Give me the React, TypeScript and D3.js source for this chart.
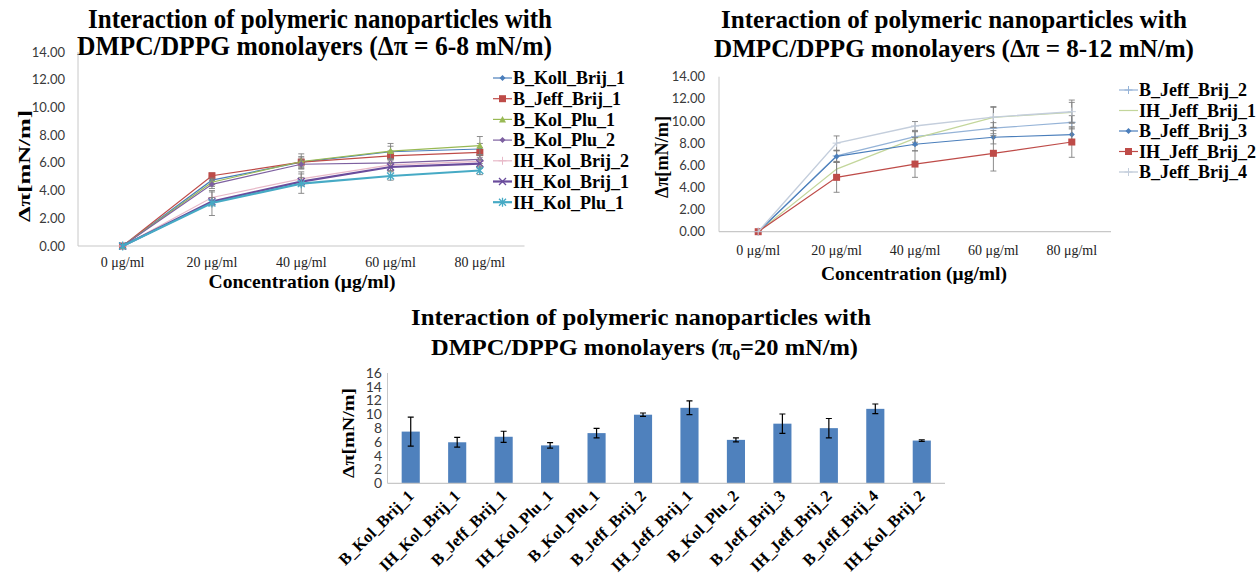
import React from "react";
import * as d3 from "d3";

// ---------- DATA ----------
const concentrations = ["0 μg/ml", "20 μg/ml", "40 μg/ml", "60 μg/ml", "80 μg/ml"];
const lineTicks = [0, 2, 4, 6, 8, 10, 12, 14];

// Chart 1 (Δπ = 6-8 mN/m)
const leftNames = ["B_Koll_Brij_1", "B_Jeff_Brij_1", "B_Kol_Plu_1", "B_Kol_Plu_2", "IH_Kol_Brij_2", "IH_Kol_Brij_1", "IH_Kol_Plu_1"];
const bKollBrij1 = [0, 4.75, 6.05, 6.8, 7.0];
const bJeffBrij1 = [0, 5.07, 6.05, 6.5, 6.75];
const bKolPlu1 = [0, 4.6, 6.1, 6.85, 7.25];
const bKolPlu2 = [0, 4.45, 5.9, 6.0, 6.25];
const ihKolBrij2 = [0, 3.5, 4.85, 5.85, 6.1];
const ihKolBrij1 = [0, 3.2, 4.65, 5.7, 5.95];
const ihKolPlu1 = [0, 3.1, 4.5, 5.05, 5.45];
const bKollBrij1Err = [0, 0.3, 0.4, 0.4, 0.4];
const bJeffBrij1Err = [0, 0.2, 0.3, 0.35, 0.35];
const bKolPlu1Err = [0, 0.3, 0.55, 0.55, 0.65];
const bKolPlu2Err = [0, 0.3, 0.3, 0.3, 0.3];
const ihKolBrij2Err = [0, 0.4, 0.5, 0.4, 0.5];
const ihKolBrij1Err = [0, 0.3, 0.3, 0.3, 0.3];
const ihKolPlu1Err = [0, 0.9, 0.7, 0.3, 0.3];

// Chart 2 (Δπ = 8-12 mN/m)
const rightNames = ["B_Jeff_Brij_2", "IH_Jeff_Brij_1", "B_Jeff_Brij_3", "IH_Jeff_Brij_2", "B_Jeff_Brij_4"];
const bJeffBrij2 = [0, 6.85, 8.58, 9.35, 9.88];
const ihJeffBrij1 = [0, 5.65, 8.43, 10.33, 10.78];
const bJeffBrij3 = [0, 6.8, 7.9, 8.53, 8.77];
const ihJeffBrij2 = [0, 4.91, 6.11, 7.08, 8.1];
const bJeffBrij4 = [0, 8.0, 9.55, 10.35, 10.84];
const bJeffBrij2Err = [0, 0.5, 0.5, 0.5, 0.6];
const ihJeffBrij1Err = [0, 0.6, 0.6, 0.9, 0.9];
const bJeffBrij3Err = [0, 0.5, 0.6, 0.6, 0.6];
const ihJeffBrij2Err = [0, 1.35, 1.2, 1.6, 1.38];
const bJeffBrij4Err = [0, 0.65, 0.4, 0.95, 1.05];

// Chart 3 (π0 = 20 mN/m)
const barCategories = ["B_Kol_Brij_1", "IH_Kol_Brij_1", "B_Jeff_Brij_1", "IH_Kol_Plu_1", "B_Kol_Plu_1", "B_Jeff_Brij_2", "IH_Jeff_Brij_1", "B_Kol_Plu_2", "B_Jeff_Brij_3", "IH_Jeff_Brij_2", "B_Jeff_Brij_4", "IH_Kol_Brij_2"];
const barValues = [7.5, 5.95, 6.75, 5.5, 7.28, 9.95, 10.95, 6.3, 8.65, 8.0, 10.8, 6.2];
const barErrors = [2.1, 0.7, 0.8, 0.4, 0.7, 0.25, 1.0, 0.3, 1.4, 1.4, 0.7, 0.12];
const barTicks = [0, 2, 4, 6, 8, 10, 12, 14, 16];

// ---------- STYLE ----------
const SERIF = "'Liberation Serif', 'Times New Roman', 'DejaVu Serif', serif";
const SANS = "Lato, 'Liberation Sans', sans-serif";
const TICK_COLOR = "#3a3a3a";
const AXIS_COLOR = "#c8c8c8";
const ERR_COLOR = "#808080";

type Series = { name: string; values: number[]; errors: number[]; color: string; marker: string; width: number };

const leftSeries: Series[] = [
  { name: leftNames[0], values: bKollBrij1, errors: bKollBrij1Err, color: "#4a7ebb", marker: "diamond", width: 1.2 },
  { name: leftNames[1], values: bJeffBrij1, errors: bJeffBrij1Err, color: "#be4b48", marker: "square", width: 1.2 },
  { name: leftNames[2], values: bKolPlu1, errors: bKolPlu1Err, color: "#98b954", marker: "triangle", width: 1.2 },
  { name: leftNames[3], values: bKolPlu2, errors: bKolPlu2Err, color: "#7d60a0", marker: "diamond", width: 1.2 },
  { name: leftNames[4], values: ihKolBrij2, errors: ihKolBrij2Err, color: "#e8b9c8", marker: "plus", width: 1.2 },
  { name: leftNames[5], values: ihKolBrij1, errors: ihKolBrij1Err, color: "#6a4c9c", marker: "x", width: 2.2 },
  { name: leftNames[6], values: ihKolPlu1, errors: ihKolPlu1Err, color: "#46aac5", marker: "star", width: 2.2 },
];

const rightSeries: Series[] = [
  { name: rightNames[0], values: bJeffBrij2, errors: bJeffBrij2Err, color: "#95b3d7", marker: "plus", width: 1.2 },
  { name: rightNames[1], values: ihJeffBrij1, errors: ihJeffBrij1Err, color: "#c3d69b", marker: "none", width: 1.2 },
  { name: rightNames[2], values: bJeffBrij3, errors: bJeffBrij3Err, color: "#4a7ebb", marker: "diamond", width: 1.2 },
  { name: rightNames[3], values: ihJeffBrij2, errors: ihJeffBrij2Err, color: "#be4b48", marker: "square", width: 1.2 },
  { name: rightNames[4], values: bJeffBrij4, errors: bJeffBrij4Err, color: "#c4cedc", marker: "plus", width: 1.4 },
];

function Marker({ type, x, y, color }: { type: string; x: number; y: number; color: string }) {
  const s = 3;
  switch (type) {
    case "diamond":
      return <path d={`M${x},${y - s}L${x + s},${y}L${x},${y + s}L${x - s},${y}Z`} fill={color} />;
    case "square":
      return <rect x={x - 3.5} y={y - 3.5} width={7} height={7} fill={color} />;
    case "triangle":
      return <path d={`M${x},${y - 3.5}L${x + 3.5},${y + 3}L${x - 3.5},${y + 3}Z`} fill={color} />;
    case "plus":
      return <path d={`M${x - 4},${y}H${x + 4}M${x},${y - 4}V${y + 4}`} stroke={color} strokeWidth={1} />;
    case "x":
      return <path d={`M${x - 3.5},${y - 3.5}L${x + 3.5},${y + 3.5}M${x - 3.5},${y + 3.5}L${x + 3.5},${y - 3.5}`} stroke={color} strokeWidth={1.3} />;
    case "star":
      return <path d={`M${x - 3.5},${y - 3.5}L${x + 3.5},${y + 3.5}M${x - 3.5},${y + 3.5}L${x + 3.5},${y - 3.5}M${x},${y - 4.5}V${y + 4.5}`} stroke={color} strokeWidth={1.3} />;
    default:
      return null;
  }
}

type LineChartProps = {
  series: Series[];
  plotLeft: number; plotRight: number; yTop: number; yBottom: number;
  tickRight: number; xTickY: number;
  xTitleX: number; xTitleY: number; xTitleLen: number;
  yTitleX: number; yTitleY: number; yTitleLen: number; yTitleSize: number;
  titleLines: { text: string; x: number; y: number; len: number; size: number }[];
  legendX: number; legendYs: number[];
};

function LineChart(p: LineChartProps) {
  const x = d3.scaleBand<string>().domain(concentrations).range([p.plotLeft, p.plotRight]);
  const y = d3.scaleLinear().domain([0, 14]).range([p.yBottom, p.yTop]);
  const cx = (c: string) => (x(c) as number) + x.bandwidth() / 2;
  const line = d3.line<number>().x((_, i) => cx(concentrations[i])).y((d) => y(d));
  return (
    <g>
      {p.titleLines.map((t, i) => (
        <text key={i} x={t.x} y={t.y} style={{ fontFamily: SERIF }} fontWeight="bold" fontSize={t.size} textLength={t.len} lengthAdjust="spacingAndGlyphs" fill="#000">{t.text}</text>
      ))}
      {/* axes */}
      <line x1={p.plotLeft} x2={p.plotLeft} y1={p.yTop} y2={p.yBottom} stroke={AXIS_COLOR} strokeWidth={1} />
      <line x1={p.plotLeft} x2={p.plotRight} y1={p.yBottom} y2={p.yBottom} stroke={AXIS_COLOR} strokeWidth={1.2} />
      {lineTicks.map((t) => (
        <text key={t} x={p.tickRight} y={y(t)} dy="0.35em" textAnchor="end" style={{ fontFamily: SANS }} fontSize={13} fill={TICK_COLOR}>{t.toFixed(2)}</text>
      ))}
      {concentrations.map((c) => (
        <text key={c} x={cx(c)} y={p.xTickY} textAnchor="middle" style={{ fontFamily: SERIF }} fontSize={14} fill="#222">{c}</text>
      ))}
      <text x={p.xTitleX} y={p.xTitleY} textAnchor="middle" style={{ fontFamily: SERIF }} fontWeight="bold" fontSize={19.5} textLength={p.xTitleLen} lengthAdjust="spacingAndGlyphs">Concentration (μg/ml)</text>
      <text transform={`translate(${p.yTitleX},${p.yTitleY}) rotate(-90)`} textAnchor="middle" dy="0.35em" style={{ fontFamily: SERIF }} fontWeight="bold" fontSize={p.yTitleSize} textLength={p.yTitleLen} lengthAdjust="spacingAndGlyphs">Δπ[mN/m]</text>
      {/* series */}
      {p.series.map((s) => (
        <g key={s.name}>
          <path d={line(s.values) || ""} fill="none" stroke={s.color} strokeWidth={s.width} />
          {s.values.map((v, i) => {
            const e = s.errors[i];
            if (!e) return null;
            const xx = cx(concentrations[i]);
            return (
              <path key={"e" + i} d={`M${xx},${y(v + e)}V${y(v - e)}M${xx - 3},${y(v + e)}H${xx + 3}M${xx - 3},${y(v - e)}H${xx + 3}`} stroke={ERR_COLOR} strokeWidth={0.9} fill="none" />
            );
          })}
          {s.values.map((v, i) => (
            <Marker key={"m" + i} type={s.marker} x={cx(concentrations[i])} y={y(v)} color={s.color} />
          ))}
        </g>
      ))}
      {/* legend */}
      {p.series.map((s, i) => (
        <g key={"lg" + s.name}>
          <line x1={p.legendX} x2={p.legendX + 19} y1={p.legendYs[i]} y2={p.legendYs[i]} stroke={s.color} strokeWidth={s.width} />
          <Marker type={s.marker} x={p.legendX + 9.5} y={p.legendYs[i]} color={s.color} />
          <text x={p.legendX + 20} y={p.legendYs[i]} dy="0.35em" style={{ fontFamily: SERIF }} fontWeight="bold" fontSize={18} fill="#000">{s.name}</text>
        </g>
      ))}
    </g>
  );
}

function BarChart() {
  const plotLeft = 387.5, plotRight = 945, yTop = 373, yBottom = 483.3;
  const band = d3.scaleBand<string>().domain(barCategories).range([plotLeft, plotRight]);
  const y = d3.scaleLinear().domain([0, 16]).range([yBottom, yTop]);
  const cx = (c: string) => (band(c) as number) + band.bandwidth() / 2;
  const bw = band.bandwidth() * 0.39;
  return (
    <g>
      <text x={411} y={325} style={{ fontFamily: SERIF }} fontWeight="bold" fontSize={24} textLength={460} lengthAdjust="spacingAndGlyphs">Interaction of polymeric nanoparticles with</text>
      <text x={431} y={355} style={{ fontFamily: SERIF }} fontWeight="bold" fontSize={24} textLength={427} lengthAdjust="spacingAndGlyphs">
        DMPC/DPPG monolayers (π<tspan fontSize={15} dy={5}>0</tspan><tspan dy={-5}>=20 mN/m)</tspan>
      </text>
      <line x1={plotLeft} x2={plotLeft} y1={yTop} y2={yBottom} stroke={AXIS_COLOR} strokeWidth={1} />
      {barTicks.map((t) => (
        <text key={t} x={382} y={y(t)} dy="0.35em" textAnchor="end" style={{ fontFamily: SANS }} fontSize={14} fill={TICK_COLOR}>{t}</text>
      ))}
      <text transform={`translate(348,433) rotate(-90)`} textAnchor="middle" dy="0.35em" style={{ fontFamily: SERIF }} fontWeight="bold" fontSize={17} textLength={90} lengthAdjust="spacingAndGlyphs">Δπ[mN/m]</text>
      {barCategories.map((c, i) => (
        <g key={c}>
          <rect x={cx(c) - bw / 2} y={y(barValues[i])} width={bw} height={yBottom - y(barValues[i])} fill="#4f81bd" />
          <path d={`M${cx(c)},${y(barValues[i] + barErrors[i])}V${y(barValues[i] - barErrors[i])}M${cx(c) - 3},${y(barValues[i] + barErrors[i])}H${cx(c) + 3}M${cx(c) - 3},${y(barValues[i] - barErrors[i])}H${cx(c) + 3}`} stroke="#000" strokeWidth={1.2} fill="none" />
          <text transform={`translate(${cx(c) + 4},497) rotate(-45)`} textAnchor="end" style={{ fontFamily: SERIF }} fontWeight="bold" fontSize={16.5} fill="#000">{c}</text>
        </g>
      ))}
      <line x1={plotLeft} x2={plotRight} y1={yBottom} y2={yBottom} stroke={AXIS_COLOR} strokeWidth={1.2} />
    </g>
  );
}

export default function App() {
  return (
    <svg width={1260} height={577} style={{ position: "absolute", left: 0, top: 0, display: "block", background: "#fff" }}>
      <rect width={1260} height={577} fill="#fff" />
      <LineChart
        series={leftSeries}
        plotLeft={78} plotRight={524.5} yTop={52} yBottom={246}
        tickRight={65} xTickY={267}
        xTitleX={302} xTitleY={288} xTitleLen={187}
        yTitleX={24} yTitleY={166} yTitleLen={112} yTitleSize={17}
        titleLines={[
          { text: "Interaction of polymeric nanoparticles with", x: 88, y: 28, len: 464, size: 27 },
          { text: "DMPC/DPPG monolayers (Δπ = 6-8 mN/m)", x: 77, y: 55, len: 475, size: 27 },
        ]}
        legendX={493} legendYs={[78, 98.7, 119.4, 140.1, 160.8, 181.5, 202.2]}
      />
      <LineChart
        series={rightSeries}
        plotLeft={719} plotRight={1111} yTop={76.7} yBottom={231.7}
        tickRight={705} xTickY={255}
        xTitleX={914} xTitleY={280} xTitleLen={186}
        yTitleX={661.5} yTitleY={157} yTitleLen={82} yTitleSize={18}
        titleLines={[
          { text: "Interaction of polymeric nanoparticles with", x: 721, y: 28, len: 466, size: 25 },
          { text: "DMPC/DPPG monolayers (Δπ = 8-12 mN/m)", x: 714, y: 57, len: 480, size: 25 },
        ]}
        legendX={1119} legendYs={[90, 110.5, 131, 151.5, 172]}
      />
      <BarChart />
    </svg>
  );
}
